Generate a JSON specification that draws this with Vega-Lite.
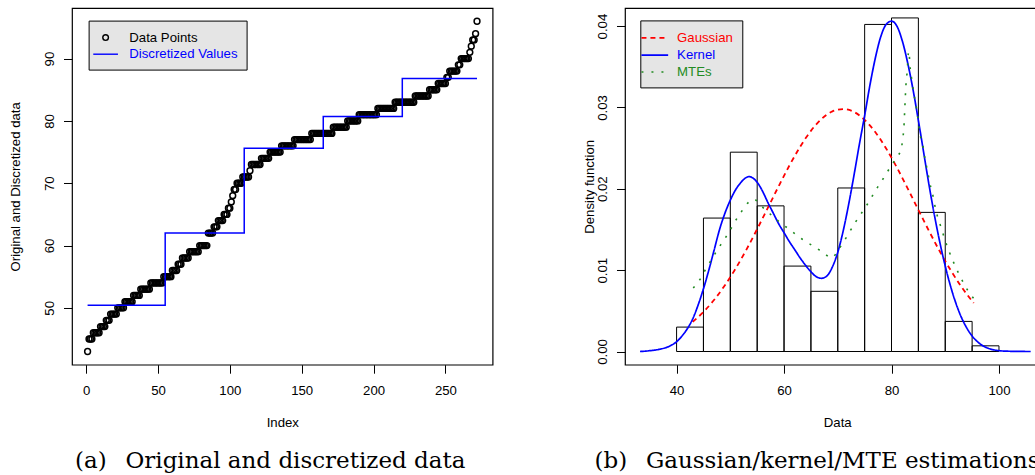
{
  "$schema": "https://vega.github.io/schema/vega-lite/v6.json",
  "padding": {"left": 8, "top": 7, "right": 0, "bottom": 0},
  "spacing": 87,
  "resolve": {"scale": {"color": "independent", "strokeDash": "independent", "strokeWidth": "independent"}, "legend": {"color": "independent", "strokeDash": "independent"}},
  "config": {
    "font": "Liberation Sans",
    "view": {"stroke": "black", "strokeWidth": 1.2},
    "axis": {"domain": false, "grid": false, "ticks": true, "tickColor": "black", "tickWidth": 1, "tickSize": 8.5,
             "labelFont": "Liberation Sans", "labelFontSize": 13.2, "labelColor": "black", "labelFlush": false, "labelOverlap": false,
             "titleFont": "Liberation Sans", "titleFontSize": 13.2, "titleFontWeight": "normal", "titleColor": "black"},
    "axisX": {"labelBaseline": "alphabetic", "labelPadding": 21.8, "titleBaseline": "alphabetic", "titleY": 62},
    "axisY": {"labelAngle": -90, "labelAlign": "center", "labelBaseline": "alphabetic", "labelPadding": 9.7, "titleBaseline": "alphabetic", "titleAngle": -90, "titleAlign": "center", "titleY": 178.35},
    "legend": {"labelFont": "Liberation Sans", "labelFontSize": 13.2, "labelLimit": 0, "fillColor": "#e5e5e5", "strokeColor": "black"}
  },
  "hconcat": [
    {
      "width": 420.6,
      "height": 356.7,
      "title": {"text": "(a)\u2002 Original and discretized data", "orient": "bottom", "anchor": "start", "frame": "group", "dx": 3, "offset": 39, "baseline": "alphabetic", "font": "DejaVu Serif", "fontSize": 23, "fontWeight": "normal", "color": "black"},
      "data": {"values": [
        {"i":1,"v":43},{"i":2,"v":45},{"i":3,"v":45},{"i":4,"v":45},{"i":5,"v":46},{"i":6,"v":46},{"i":7,"v":46},{"i":8,"v":46},{"i":9,"v":46},
        {"i":10,"v":47},{"i":11,"v":47},{"i":12,"v":47},{"i":13,"v":47},{"i":14,"v":48},{"i":15,"v":48},{"i":16,"v":48},
        {"i":17,"v":49},{"i":18,"v":49},{"i":19,"v":49},{"i":20,"v":49},{"i":21,"v":49},
        {"i":22,"v":50},{"i":23,"v":50},{"i":24,"v":50},{"i":25,"v":50},{"i":26,"v":50},
        {"i":27,"v":51},{"i":28,"v":51},{"i":29,"v":51},{"i":30,"v":51},{"i":31,"v":51},{"i":32,"v":51},
        {"i":33,"v":52},{"i":34,"v":52},{"i":35,"v":52},{"i":36,"v":52},{"i":37,"v":52},
        {"i":38,"v":53},{"i":39,"v":53},{"i":40,"v":53},{"i":41,"v":53},{"i":42,"v":53},{"i":43,"v":53},{"i":44,"v":53},
        {"i":45,"v":54},{"i":46,"v":54},{"i":47,"v":54},{"i":48,"v":54},{"i":49,"v":54},{"i":50,"v":54},{"i":51,"v":54},{"i":52,"v":54},{"i":53,"v":54},
        {"i":54,"v":55},{"i":55,"v":55},{"i":56,"v":55},{"i":57,"v":55},{"i":58,"v":55},{"i":59,"v":55},
        {"i":60,"v":56},{"i":61,"v":56},{"i":62,"v":56},{"i":63,"v":56},
        {"i":64,"v":57},{"i":65,"v":57},{"i":66,"v":57},
        {"i":67,"v":58},{"i":68,"v":58},{"i":69,"v":58},{"i":70,"v":58},{"i":71,"v":58},
        {"i":72,"v":59},{"i":73,"v":59},{"i":74,"v":59},{"i":75,"v":59},{"i":76,"v":59},{"i":77,"v":59},{"i":78,"v":59},
        {"i":79,"v":60},{"i":80,"v":60},{"i":81,"v":60},{"i":82,"v":60},{"i":83,"v":60},{"i":84,"v":60},
        {"i":85,"v":62},{"i":86,"v":62},{"i":87,"v":62},{"i":88,"v":62},
        {"i":89,"v":63},{"i":90,"v":63},{"i":91,"v":63},
        {"i":92,"v":64},{"i":93,"v":64},{"i":94,"v":64},{"i":95,"v":64},
        {"i":96,"v":65},{"i":97,"v":65},{"i":98,"v":65},
        {"i":99,"v":66},{"i":100,"v":66},{"i":101,"v":67},{"i":102,"v":68},{"i":103,"v":69},{"i":104,"v":69},
        {"i":105,"v":70},{"i":106,"v":70},{"i":107,"v":70},{"i":108,"v":70},
        {"i":109,"v":71},{"i":110,"v":71},{"i":111,"v":71},{"i":112,"v":71},{"i":113,"v":71},
        {"i":114,"v":72},
        {"i":115,"v":73},{"i":116,"v":73},{"i":117,"v":73},{"i":118,"v":73},{"i":119,"v":73},{"i":120,"v":73},{"i":121,"v":73},
        {"i":122,"v":74},{"i":123,"v":74},{"i":124,"v":74},{"i":125,"v":74},{"i":126,"v":74},{"i":127,"v":74},
        {"i":128,"v":75},{"i":129,"v":75},{"i":130,"v":75},{"i":131,"v":75},{"i":132,"v":75},{"i":133,"v":75},{"i":134,"v":75},{"i":135,"v":75},
        {"i":136,"v":76},{"i":137,"v":76},{"i":138,"v":76},{"i":139,"v":76},{"i":140,"v":76},{"i":141,"v":76},{"i":142,"v":76},{"i":143,"v":76},{"i":144,"v":76},
        {"i":145,"v":77},{"i":146,"v":77},{"i":147,"v":77},{"i":148,"v":77},{"i":149,"v":77},{"i":150,"v":77},{"i":151,"v":77},{"i":152,"v":77},{"i":153,"v":77},{"i":154,"v":77},{"i":155,"v":77},{"i":156,"v":77},
        {"i":157,"v":78},{"i":158,"v":78},{"i":159,"v":78},{"i":160,"v":78},{"i":161,"v":78},{"i":162,"v":78},{"i":163,"v":78},{"i":164,"v":78},{"i":165,"v":78},{"i":166,"v":78},{"i":167,"v":78},{"i":168,"v":78},{"i":169,"v":78},{"i":170,"v":78},{"i":171,"v":78},
        {"i":172,"v":79},{"i":173,"v":79},{"i":174,"v":79},{"i":175,"v":79},{"i":176,"v":79},{"i":177,"v":79},{"i":178,"v":79},{"i":179,"v":79},{"i":180,"v":79},{"i":181,"v":79},
        {"i":182,"v":80},{"i":183,"v":80},{"i":184,"v":80},{"i":185,"v":80},{"i":186,"v":80},{"i":187,"v":80},{"i":188,"v":80},{"i":189,"v":80},
        {"i":190,"v":81},{"i":191,"v":81},{"i":192,"v":81},{"i":193,"v":81},{"i":194,"v":81},{"i":195,"v":81},{"i":196,"v":81},{"i":197,"v":81},{"i":198,"v":81},{"i":199,"v":81},{"i":200,"v":81},{"i":201,"v":81},{"i":202,"v":81},
        {"i":203,"v":82},{"i":204,"v":82},{"i":205,"v":82},{"i":206,"v":82},{"i":207,"v":82},{"i":208,"v":82},{"i":209,"v":82},{"i":210,"v":82},{"i":211,"v":82},{"i":212,"v":82},{"i":213,"v":82},{"i":214,"v":82},
        {"i":215,"v":83},{"i":216,"v":83},{"i":217,"v":83},{"i":218,"v":83},{"i":219,"v":83},{"i":220,"v":83},{"i":221,"v":83},{"i":222,"v":83},{"i":223,"v":83},{"i":224,"v":83},{"i":225,"v":83},{"i":226,"v":83},{"i":227,"v":83},{"i":228,"v":83},
        {"i":229,"v":84},{"i":230,"v":84},{"i":231,"v":84},{"i":232,"v":84},{"i":233,"v":84},{"i":234,"v":84},{"i":235,"v":84},{"i":236,"v":84},{"i":237,"v":84},{"i":238,"v":84},
        {"i":239,"v":85},{"i":240,"v":85},{"i":241,"v":85},{"i":242,"v":85},{"i":243,"v":85},{"i":244,"v":85},
        {"i":245,"v":86},{"i":246,"v":86},{"i":247,"v":86},{"i":248,"v":86},{"i":249,"v":86},{"i":250,"v":86},
        {"i":251,"v":87},{"i":252,"v":87},
        {"i":253,"v":88},{"i":254,"v":88},{"i":255,"v":88},{"i":256,"v":88},{"i":257,"v":88},{"i":258,"v":88},
        {"i":259,"v":89},{"i":260,"v":89},
        {"i":261,"v":90},{"i":262,"v":90},{"i":263,"v":90},{"i":264,"v":90},{"i":265,"v":90},{"i":266,"v":90},
        {"i":267,"v":91},{"i":268,"v":92},{"i":269,"v":93},{"i":270,"v":93},{"i":271,"v":94},{"i":272,"v":96}
      ]},
      "encoding": {
        "x": {"field": "i", "type": "quantitative", "scale": {"domain": [-9.84, 282.84], "nice": false, "zero": false},
              "axis": {"values": [0, 50, 100, 150, 200, 250], "title": "Index", "titleX": 210.3}},
        "y": {"field": "v", "type": "quantitative", "scale": {"domain": [40.88, 98.12], "nice": false, "zero": false},
              "axis": {"values": [50, 60, 70, 80, 90], "title": "Original and Discretized data", "titleX": -52.4}}
      },
      "layer": [
        {
          "mark": {"type": "point", "filled": false, "size": 34, "strokeWidth": 1.5, "opacity": 1},
          "encoding": {
            "color": {"datum": "Data Points", "type": "nominal",
              "scale": {"domain": ["Data Points", "Discretized Values"], "range": ["black", "#0000FF"]},
              "legend": {"title": null, "orient": "none", "legendX": 16.6, "legendY": 12.6, "padding": 9, "symbolSize": 199, "symbolOffset": 0, "labelOffset": 15.7, "rowPadding": 1.6,
                "symbolStrokeWidth": 1.4,
                "symbolType": {"expr": "datum.value === 'Data Points' ? 'M-0.4,0A0.4,0.4 0 1,0 0.4,0A0.4,0.4 0 1,0 -0.4,0Z' : 'M-1.75,0H1.75'"},
                "labelColor": {"expr": "datum.value === 'Data Points' ? 'black' : '#0000FF'"}}
            }
          }
        },
        {
          "data": {"values": [
            {"i": 1, "v": 50.4}, {"i": 55, "v": 62.0}, {"i": 110, "v": 75.6}, {"i": 165, "v": 80.7}, {"i": 220, "v": 86.8}, {"i": 272, "v": 86.8}
          ]},
          "mark": {"type": "line", "interpolate": "step-after", "color": "#0000FF", "strokeWidth": 1.5},
          "encoding": {}
        }
      ]
    },
    {
      "width": 424.5,
      "height": 356.7,
      "title": {"text": "(b)\u2002 Gaussian/kernel/MTE estimations", "orient": "bottom", "anchor": "start", "frame": "group", "dx": -30.5, "offset": 39, "baseline": "alphabetic", "font": "DejaVu Serif", "fontSize": 23, "fontWeight": "normal", "color": "black"},
      "encoding": {
        "x": {"field": "x", "type": "quantitative", "scale": {"domain": [30.4, 109.4], "nice": false, "zero": false},
              "axis": {"values": [40, 60, 80, 100], "title": "Data", "titleX": 212.25}},
        "y": {"field": "y", "type": "quantitative", "scale": {"domain": [-0.00162, 0.04222], "nice": false, "zero": false},
              "axis": {"values": [0, 0.01, 0.02, 0.03, 0.04], "format": ".2f", "title": "Density function", "titleX": -31.7}}
      },
      "layer": [
        {
          "data": {"values": [
            {"x": 40, "x2": 45, "y": 0.0030}, {"x": 45, "x2": 50, "y": 0.0164}, {"x": 50, "x2": 55, "y": 0.0245},
            {"x": 55, "x2": 60, "y": 0.0179}, {"x": 60, "x2": 65, "y": 0.0105}, {"x": 65, "x2": 70, "y": 0.0074},
            {"x": 70, "x2": 75, "y": 0.0201}, {"x": 75, "x2": 80, "y": 0.0402}, {"x": 80, "x2": 85, "y": 0.0410},
            {"x": 85, "x2": 90, "y": 0.0171}, {"x": 90, "x2": 95, "y": 0.0037}, {"x": 95, "x2": 100, "y": 0.0007}
          ]},
          "mark": {"type": "rect", "filled": false, "color": "black", "strokeWidth": 1},
          "encoding": {"x2": {"field": "x2"}, "y2": {"datum": 0}}
        },
        {
          "data": {"values": [
            {"m":"Gaussian","x":43,"y":0.00364},{"m":"Gaussian","x":45,"y":0.00486},{"m":"Gaussian","x":47,"y":0.00636},{"m":"Gaussian","x":49,"y":0.00815},
            {"m":"Gaussian","x":51,"y":0.01021},{"m":"Gaussian","x":53,"y":0.01253},{"m":"Gaussian","x":55,"y":0.01505},{"m":"Gaussian","x":57,"y":0.01768},
            {"m":"Gaussian","x":59,"y":0.02032},{"m":"Gaussian","x":61,"y":0.02286},{"m":"Gaussian","x":63,"y":0.02517},{"m":"Gaussian","x":65,"y":0.02712},
            {"m":"Gaussian","x":67,"y":0.02860},{"m":"Gaussian","x":69,"y":0.02951},{"m":"Gaussian","x":71,"y":0.02980},{"m":"Gaussian","x":73,"y":0.02945},
            {"m":"Gaussian","x":75,"y":0.02847},{"m":"Gaussian","x":77,"y":0.02695},{"m":"Gaussian","x":79,"y":0.02495},{"m":"Gaussian","x":81,"y":0.02262},
            {"m":"Gaussian","x":83,"y":0.02005},{"m":"Gaussian","x":85,"y":0.01741},{"m":"Gaussian","x":87,"y":0.01478},{"m":"Gaussian","x":89,"y":0.01229},
            {"m":"Gaussian","x":91,"y":0.01000},{"m":"Gaussian","x":93,"y":0.00796},{"m":"Gaussian","x":95.3,"y":0.00596},
            {"m":"Kernel","x":33.2,"y":0.0},{"m":"Kernel","x":35,"y":0.0001},{"m":"Kernel","x":37,"y":0.0003},{"m":"Kernel","x":38.5,"y":0.0006},
            {"m":"Kernel","x":40,"y":0.0012},{"m":"Kernel","x":41,"y":0.0019},{"m":"Kernel","x":42,"y":0.0028},{"m":"Kernel","x":43,"y":0.0040},
            {"m":"Kernel","x":44,"y":0.0057},{"m":"Kernel","x":45,"y":0.0077},{"m":"Kernel","x":46,"y":0.0100},{"m":"Kernel","x":47,"y":0.0125},
            {"m":"Kernel","x":48,"y":0.0150},{"m":"Kernel","x":49,"y":0.0170},{"m":"Kernel","x":50,"y":0.0186},{"m":"Kernel","x":51,"y":0.0199},
            {"m":"Kernel","x":52,"y":0.0208},{"m":"Kernel","x":53,"y":0.0214},{"m":"Kernel","x":53.5,"y":0.0215},{"m":"Kernel","x":54,"y":0.0214},
            {"m":"Kernel","x":55,"y":0.0208},{"m":"Kernel","x":56,"y":0.0197},{"m":"Kernel","x":57,"y":0.0183},{"m":"Kernel","x":58,"y":0.0170},
            {"m":"Kernel","x":59,"y":0.0157},{"m":"Kernel","x":60,"y":0.0146},{"m":"Kernel","x":61,"y":0.0135},{"m":"Kernel","x":62,"y":0.0125},
            {"m":"Kernel","x":63,"y":0.0115},{"m":"Kernel","x":64,"y":0.0106},{"m":"Kernel","x":65,"y":0.0098},{"m":"Kernel","x":66,"y":0.0092},
            {"m":"Kernel","x":67,"y":0.0090},{"m":"Kernel","x":68,"y":0.0093},{"m":"Kernel","x":69,"y":0.0104},{"m":"Kernel","x":70,"y":0.0122},
            {"m":"Kernel","x":71,"y":0.0148},{"m":"Kernel","x":72,"y":0.0180},{"m":"Kernel","x":73,"y":0.0216},{"m":"Kernel","x":74,"y":0.0254},
            {"m":"Kernel","x":75,"y":0.0290},{"m":"Kernel","x":76,"y":0.0328},{"m":"Kernel","x":77,"y":0.0361},{"m":"Kernel","x":78,"y":0.0387},
            {"m":"Kernel","x":79,"y":0.0402},{"m":"Kernel","x":80,"y":0.0406},{"m":"Kernel","x":81,"y":0.0400},{"m":"Kernel","x":82,"y":0.0382},
            {"m":"Kernel","x":83,"y":0.0355},{"m":"Kernel","x":84,"y":0.0322},{"m":"Kernel","x":85,"y":0.0284},{"m":"Kernel","x":86,"y":0.0244},
            {"m":"Kernel","x":87,"y":0.0204},{"m":"Kernel","x":88,"y":0.0167},{"m":"Kernel","x":89,"y":0.0134},{"m":"Kernel","x":90,"y":0.0105},
            {"m":"Kernel","x":91,"y":0.0080},{"m":"Kernel","x":92,"y":0.0059},{"m":"Kernel","x":93,"y":0.0042},{"m":"Kernel","x":94,"y":0.0029},
            {"m":"Kernel","x":95,"y":0.0019},{"m":"Kernel","x":96,"y":0.0012},{"m":"Kernel","x":97,"y":0.0007},{"m":"Kernel","x":98,"y":0.0004},
            {"m":"Kernel","x":100,"y":0.0001},{"m":"Kernel","x":102,"y":0.00003},{"m":"Kernel","x":105.9,"y":0.0},
            {"m":"MTEs","x":43.1,"y":0.0078},{"m":"MTEs","x":44.4,"y":0.0089},{"m":"MTEs","x":45.4,"y":0.0101},{"m":"MTEs","x":46.5,"y":0.0113},
            {"m":"MTEs","x":47.5,"y":0.0124},{"m":"MTEs","x":48.6,"y":0.0135},{"m":"MTEs","x":49.7,"y":0.0146},{"m":"MTEs","x":50.7,"y":0.0158},
            {"m":"MTEs","x":51.8,"y":0.0169},{"m":"MTEs","x":52.9,"y":0.0180},{"m":"MTEs","x":54.4,"y":0.0187},{"m":"MTEs","x":55.9,"y":0.0178},
            {"m":"MTEs","x":57.4,"y":0.0169},{"m":"MTEs","x":59.0,"y":0.0160},{"m":"MTEs","x":60.6,"y":0.0152},{"m":"MTEs","x":62.2,"y":0.0144},
            {"m":"MTEs","x":63.8,"y":0.0136},{"m":"MTEs","x":65.6,"y":0.0129},{"m":"MTEs","x":67.2,"y":0.0122},{"m":"MTEs","x":68.9,"y":0.0115},
            {"m":"MTEs","x":70.0,"y":0.0124},{"m":"MTEs","x":71.1,"y":0.0135},{"m":"MTEs","x":72.2,"y":0.0147},{"m":"MTEs","x":73.3,"y":0.0159},
            {"m":"MTEs","x":74.4,"y":0.0170},{"m":"MTEs","x":75.5,"y":0.0181},{"m":"MTEs","x":76.6,"y":0.0193},{"m":"MTEs","x":77.6,"y":0.0204},
            {"m":"MTEs","x":78.7,"y":0.0215},{"m":"MTEs","x":79.8,"y":0.0227},{"m":"MTEs","x":80.9,"y":0.0238},{"m":"MTEs","x":81.8,"y":0.0249},
            {"m":"MTEs","x":82.1,"y":0.0262},{"m":"MTEs","x":82.3,"y":0.0275},{"m":"MTEs","x":82.5,"y":0.0303},{"m":"MTEs","x":82.7,"y":0.0329},
            {"m":"MTEs","x":82.9,"y":0.0343},{"m":"MTEs","x":83.2,"y":0.0369},{"m":"MTEs","x":83.5,"y":0.0347},{"m":"MTEs","x":83.8,"y":0.0333},
            {"m":"MTEs","x":84.1,"y":0.0319},{"m":"MTEs","x":84.5,"y":0.0305},{"m":"MTEs","x":84.8,"y":0.0292},{"m":"MTEs","x":85.3,"y":0.0267},
            {"m":"MTEs","x":85.8,"y":0.0255},{"m":"MTEs","x":86.1,"y":0.0242},{"m":"MTEs","x":86.5,"y":0.0228},{"m":"MTEs","x":86.9,"y":0.0215},
            {"m":"MTEs","x":87.3,"y":0.0202},{"m":"MTEs","x":87.8,"y":0.0189},{"m":"MTEs","x":88.2,"y":0.0175},{"m":"MTEs","x":88.7,"y":0.0163},
            {"m":"MTEs","x":89.3,"y":0.0151},{"m":"MTEs","x":89.9,"y":0.0138},{"m":"MTEs","x":90.6,"y":0.0125},{"m":"MTEs","x":91.4,"y":0.0112},
            {"m":"MTEs","x":92.2,"y":0.0100},{"m":"MTEs","x":93.1,"y":0.0088},{"m":"MTEs","x":94.1,"y":0.0076},{"m":"MTEs","x":95.3,"y":0.0065}
          ]},
          "mark": {"type": "line", "interpolate": "monotone"},
          "encoding": {
            "color": {"field": "m", "type": "nominal",
              "scale": {"domain": ["Gaussian", "Kernel", "MTEs"], "range": ["#FF0000", "#0000FF", "#228B22"]},
              "legend": {"title": null, "orient": "none", "legendX": 15.3, "legendY": 12.4, "padding": 8.5, "symbolSize": 233, "symbolType": "M-1.75,0H1.75", "symbolOffset": -3, "symbolStrokeWidth": 1.5, "labelOffset": 13.3, "rowPadding": 1.8,
                "labelColor": {"expr": "datum.value === 'Gaussian' ? '#FF0000' : datum.value === 'Kernel' ? '#0000FF' : '#228B22'"}}
            },
            "strokeDash": {"field": "m", "type": "nominal",
              "scale": {"domain": ["Gaussian", "Kernel", "MTEs"], "range": [[5, 4], [1, 0], [2, 8]]},
              "legend": {"title": null, "orient": "none", "legendX": 15.3, "legendY": 12.4, "padding": 8.5, "symbolSize": 233, "symbolType": "M-1.75,0H1.75", "symbolOffset": -3, "symbolStrokeWidth": 1.5, "labelOffset": 13.3, "rowPadding": 1.8,
                "labelColor": {"expr": "datum.value === 'Gaussian' ? '#FF0000' : datum.value === 'Kernel' ? '#0000FF' : '#228B22'"}}
            },
            "strokeWidth": {"field": "m", "type": "ordinal",
              "scale": {"domain": ["Gaussian", "Kernel", "MTEs"], "range": [1.8, 1.6, 2.5]},
              "legend": null
            }
          }
        }
      ]
    }
  ]
}
